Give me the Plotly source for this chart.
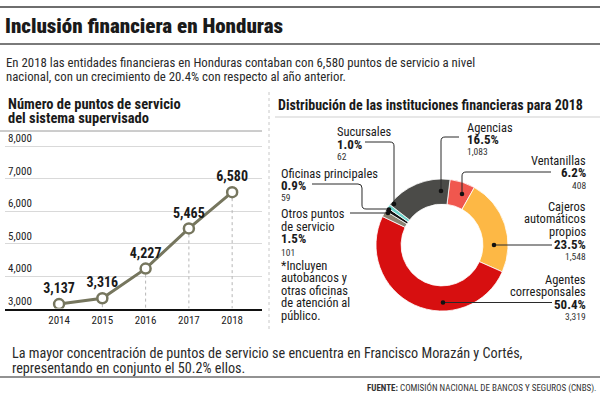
import plotly.graph_objects as go

# ---------------- data ----------------
years = [2014, 2015, 2016, 2017, 2018]
puntos = [3137, 3316, 4227, 5465, 6580]
y_ticks = [3000, 4000, 5000, 6000, 7000, 8000]

categorias = ["Ventanillas", "Cajeros automáticos propios", "Agentes corresponsales",
              "Otros puntos de servicio", "Oficinas principales", "Sucursales", "Agencias"]
cantidades = [408, 1548, 3319, 101, 59, 62, 1083]
porcentajes = ["6.2%", "23.5%", "50.4%", "1.5%", "0.9%", "1.0%", "16.5%"]
colores = ["#f0574e", "#fdb845", "#d70f10", "#8a8473", "#111111", "#6dd3cb", "#4b4b48"]

W, H = 600, 394
FONT = "Roboto Condensed, Roboto, sans-serif"
INK = "#1a1a1a"


def px(x):
    return x / W


def py(y):
    return 1 - y / H


fig = go.Figure()

# dotted drop lines from each point to the base
dx, dy = [], []
for yr, v in zip(years, puntos):
    dx += [yr, yr, None]
    dy += [v, y_ticks[0], None]
fig.add_trace(go.Scatter(x=dx, y=dy, mode="lines", hoverinfo="skip",
                         line=dict(color="#b5b5b5", width=1, dash="dot"), showlegend=False))

fig.add_trace(go.Scatter(
    x=years, y=puntos, mode="lines+markers+text",
    line=dict(color="#76765e", width=3),
    marker=dict(size=10, color="white", line=dict(color="#76765e", width=2.5)),
    texttemplate="<b>%{y:,}</b>", textposition="top center",
    textfont=dict(family=FONT, size=14, color=INK), showlegend=False))

fig.add_trace(go.Pie(
    labels=categorias, values=cantidades, sort=False, direction="clockwise", rotation=7,
    hole=0.62, textinfo="none", hoverinfo="label+value+percent",
    marker=dict(colors=colores, line=dict(color="white", width=0.8)),
    domain=dict(x=[px(376), px(508)], y=[py(311), py(179)]), showlegend=False))

GRID = 32.5  # pixels per 1000
TOP = 8500
fig.update_layout(
    width=W, height=H, margin=dict(l=0, r=0, t=0, b=0),
    paper_bgcolor="white", plot_bgcolor="rgba(0,0,0,0)",
    font=dict(family=FONT, color=INK),
    xaxis=dict(domain=[px(5), px(262)], range=[2012.75, 2018.69], tickvals=years,
               ticktext=[str(y) for y in years], showgrid=False, zeroline=False,
               showline=True, linecolor="#111111", linewidth=2, ticks="",
               tickfont=dict(family=FONT, size=11, color="#222"), fixedrange=True),
    yaxis=dict(domain=[py(308.5), py(146 - (TOP - 8000) / 1000 * GRID)], range=[3000, TOP],
               tickvals=y_ticks, tickformat=",", ticklabelposition="inside top", showgrid=True,
               gridcolor="#d9d9d9", gridwidth=1, zeroline=False, showline=False, ticks="",
               tickfont=dict(family=FONT, size=11, color="#222"), fixedrange=True),
)

shapes = []


def hline(y, x0, x1, color, width, dash="solid"):
    shapes.append(dict(type="line", xref="paper", yref="paper", x0=px(x0), x1=px(x1),
                       y0=py(y), y1=py(y), line=dict(color=color, width=width, dash=dash)))


hline(7, 0, 600, "#6e6e6e", 2)
hline(44, 0, 600, "#7a7a7a", 2)
hline(131, 0, 262, "#9a9a9a", 1)
hline(117, 275, 600, "#cfcfcf", 1)
hline(377, 0, 600, "#6e6e6e", 1.5)
shapes.append(dict(type="line", xref="paper", yref="paper", x0=px(269), x1=px(269),
                   y0=py(92), y1=py(332), line=dict(color="#c8c8c8", width=1, dash="dot")))


def path(points_cmds):
    out = []
    for cmd, pts in points_cmds:
        s = " ".join(f"{px(x):.5f},{py(y):.5f}" for x, y in pts)
        out.append(f"{cmd} {s}")
    return " ".join(out)


leaders = [
    [("M", [(441, 191)]), ("L", [(441, 141)]), ("Q", [(441, 137), (445, 137)]), ("L", [(459, 137)])],
    [("M", [(462, 194)]), ("L", [(462, 176)]), ("Q", [(462, 172), (466, 172)]), ("L", [(551, 172)])],
    [("M", [(494, 245)]), ("L", [(552, 245)])],
    [("M", [(443, 302.5)]), ("L", [(552, 302.5)])],
    [("M", [(394, 204)]), ("L", [(394, 146)]), ("Q", [(394, 142), (390, 142)]), ("L", [(365, 142)])],
    [("M", [(389, 209)]), ("L", [(366, 209)]), ("Q", [(362, 209), (362, 205)]), ("L", [(362, 188)]),
     ("Q", [(362, 184), (358, 184)]), ("L", [(312, 184)])],
    [("M", [(388, 213)]), ("L", [(350, 213)])],
]
for ld in leaders:
    shapes.append(dict(type="path", xref="paper", yref="paper", path=path(ld),
                       line=dict(color="#2a2a2a", width=1)))
dots = [(441, 191), (462, 194), (494, 245), (443, 302.5), (394, 204), (389, 209.5), (388, 213)]
for x, y in dots:
    r = 2.3
    shapes.append(dict(type="circle", xref="paper", yref="paper", x0=px(x - r), x1=px(x + r),
                       y0=py(y + r), y1=py(y - r), fillcolor="#111", line=dict(width=0)))

anns = []


def txt(x, y, s, size, anchor="left", color=INK, bold=False, weight=None):
    if bold:
        s = f"<b>{s}</b>"
    f = dict(family=FONT, size=size, color=color)
    if weight:
        f["weight"] = weight
    anns.append(dict(x=px(x), y=py(y), xref="paper", yref="paper", text=s, showarrow=False,
                     xanchor=anchor, yanchor="middle", borderpad=0, font=f))


txt(4, 26, "Inclusión financiera en Honduras", 21, weight=900)
txt(5, 62, "En 2018 las entidades financieras en Honduras contaban con 6,580 puntos de servicio a nivel", 12.8, color="#2a2a2a")
txt(5, 77, "nacional, con un crecimiento de 20.4% con respecto al año anterior.", 12.8, color="#2a2a2a")

txt(7, 104, "Número de puntos de servicio", 14.5, bold=True)
txt(7, 118, "del sistema supervisado", 14.5, bold=True)
txt(277, 105, "Distribución de las instituciones financieras para 2018", 14, bold=True)

# donut labels (values taken from the data arrays)
lab = dict(zip(categorias, zip(cantidades, porcentajes)))

# Sucursales
c, p = lab["Sucursales"]
txt(336, 131, "Sucursales", 12.5)
txt(336, 144, p, 13, bold=True)
txt(336, 157, f"{c:,}", 9.5, color="#333")
# Oficinas principales
c, p = lab["Oficinas principales"]
txt(280, 173, "Oficinas principales", 12.5)
txt(280, 185.5, p, 13, bold=True)
txt(280, 198, f"{c:,}", 9.5, color="#333")
# Otros puntos de servicio
c, p = lab["Otros puntos de servicio"]
txt(280, 213, "Otros puntos", 12.5)
txt(280, 226, "de servicio", 12.5)
txt(280, 238.5, p, 13, bold=True)
txt(280, 252, f"{c:,}", 9.5, color="#333")
for i, line in enumerate(["*Incluyen", "autobancos y", "otras oficinas", "de atención al", "público."]):
    txt(280, 265 + i * 12.6, line, 12.5)
# Agencias
c, p = lab["Agencias"]
txt(466, 127, "Agencias", 12.5)
txt(466, 139.5, p, 13, bold=True)
txt(466, 151.5, f"{c:,}", 9.5, color="#333")
# Ventanillas
c, p = lab["Ventanillas"]
txt(587, 160, "Ventanillas", 12.5, anchor="right")
txt(587, 172.7, p, 13, anchor="right", bold=True)
txt(587, 185, f"{c:,}", 9.5, anchor="right", color="#333")
# Cajeros
c, p = lab["Cajeros automáticos propios"]
txt(587, 206.5, "Cajeros", 12.5, anchor="right")
txt(587, 218.7, "automáticos", 12.5, anchor="right")
txt(587, 231, "propios", 12.5, anchor="right")
txt(587, 244, p, 13, anchor="right", bold=True)
txt(587, 256.5, f"{c:,}", 9.5, anchor="right", color="#333")
# Agentes
c, p = lab["Agentes corresponsales"]
txt(587, 279, "Agentes", 12.5, anchor="right")
txt(587, 291.5, "corresponsales", 12.5, anchor="right")
txt(587, 304, p, 13, anchor="right", bold=True)
txt(587, 316.5, f"{c:,}", 9.5, anchor="right", color="#333")

txt(11, 353, "La mayor concentración de puntos de servicio se encuentra en Francisco Morazán y Cortés,", 14.2, color="#2a2a2a")
txt(11, 368, "representando en conjunto el 50.2% ellos.", 14.2, color="#2a2a2a")
txt(597, 388, "<b>FUENTE:</b> COMISIÓN NACIONAL DE BANCOS Y SEGUROS (CNBS).", 9, anchor="right", color="#333")

fig.update_layout(shapes=shapes, annotations=anns)
fig.write_html("out.html", config={"displayModeBar": False},
               post_script="document.body.style.margin='0';document.body.style.overflow='hidden';")
